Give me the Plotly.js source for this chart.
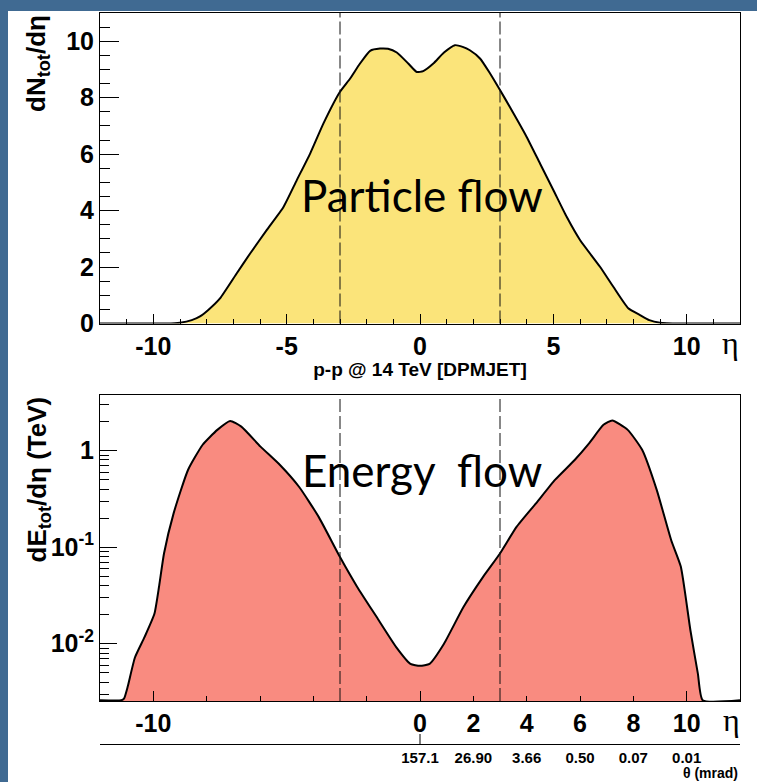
<!DOCTYPE html>
<html><head><meta charset="utf-8">
<script src="https://cdn.plot.ly/plotly-3.0.1.min.js"></script>
<style>html,body{margin:0;padding:0;background:#fff;}#chart{width:757px;height:782px;}</style>
</head><body><div id="chart"></div>
<script>
// ---- data ----
const etaN = [-12, -9.5, -9.0, -8.56, -8.25, -7.94, -7.5, -6.87, -6.37, -5.75, -5.12, -4.62, -4.12, -3.62, -3.0, -2.62, -2.25, -1.87, -1.5, -1.2, -0.87, -0.44, -0.12, 0.12, 0.5, 0.9, 1.31, 1.6, 1.87, 2.25, 2.6, 3.0, 3.37, 4.0, 4.5, 5.0, 5.5, 6.0, 6.75, 7.25, 7.81, 8.25, 8.6, 9.0, 9.75, 12];
const dNdEta = [0, 0, 0.03, 0.12, 0.25, 0.48, 0.89, 1.78, 2.48, 3.31, 4.13, 5.08, 6.02, 7.09, 8.21, 8.68, 9.21, 9.66, 9.74, 9.73, 9.6, 9.21, 8.91, 8.94, 9.21, 9.6, 9.86, 9.8, 9.68, 9.39, 8.9, 8.27, 7.67, 6.61, 5.67, 4.73, 3.78, 2.96, 2.01, 1.30, 0.54, 0.30, 0.12, 0.03, 0, 0];

const etaE = [-12, -11.2, -11.1, -10.96, -10.69, -10.33, -9.96, -9.78, -9.6, -9.24, -8.7, -8.15, -7.6, -7.12, -6.7, -5.98, -5.25, -4.53, -3.8, -3.0, -2.36, -1.63, -0.9, -0.36, 0, 0.36, 0.9, 1.63, 2.36, 3.0, 3.62, 4.35, 5.07, 5.8, 6.34, 6.88, 7.21, 7.79, 8.33, 8.88, 9.42, 9.78, 10.14, 10.42, 10.6, 12];
const dEdEta = [0.0026, 0.0026, 0.0027, 0.0036, 0.0072, 0.0117, 0.0204, 0.04, 0.086, 0.224, 0.63, 1.15, 1.64, 2.03, 1.77, 1.1, 0.71, 0.42, 0.206, 0.079, 0.039, 0.019, 0.0093, 0.0062, 0.0059, 0.0062, 0.010, 0.024, 0.049, 0.086, 0.162, 0.284, 0.50, 0.80, 1.19, 1.85, 2.05, 1.64, 1.02, 0.39, 0.118, 0.063, 0.0138, 0.0049, 0.0026, 0.0026];

const etaCuts = [-3, 3];
const topXTicks = [-10, -5, 0, 5, 10];
const topXTickText = ['-10', '-5', '0', '5', '10'];
const topYTicks = [0, 2, 4, 6, 8, 10];
const lowXTickVals = [-10, 0, 2, 4, 6, 8, 10];
const lowXTickText = ['-10', '0', '2', '4', '6', '8', '10'];
const lowXMinorTicks = [-8, -6, -4, -2];
const lowXLongTicks = [-10, 0, 10];
const lowYTickVals = [0.01, 0.1, 1];
const lowYTickText = ['10<sup>-2</sup>', '10<sup>-1</sup>', '1'];
const thetaEta = [0, 2, 4, 6, 8, 10];
const thetaLabels = ['157.1', '26.90', '3.66', '0.50', '0.07', '0.01'];

// ---- style ----
const FAM = 'Liberation Sans, Arial, sans-serif';
const TICKFONT = {family: FAM, size: 25, color: '#000', weight: 700};
const BLUE = '#406a92';
const DASH = {color: '#111', width: 1, dash: '13px,4px'};
const W = 757, H = 782, ML = 100, MR = 17, MT = 13, MB = 38;
const PW = W - ML - MR, PH = H - MT - MB;
const px2x = p => (p - ML) / PW;
const py2y = p => (H - MB - p) / PH;

// log minor ticks (2..9 per decade)
const logMinor = [];
for (let d = -3; d <= 0; d++) for (let k = 2; k <= 9; k++) logMinor.push(k * Math.pow(10, d));

const traces = [
  {x: etaN, y: dNdEta, xaxis: 'x', yaxis: 'y', mode: 'lines', fill: 'tozeroy',
   fillcolor: '#fbe47a', line: {color: '#000', width: 2, shape: 'spline', smoothing: 0.5},
   hoverinfo: 'x+y', showlegend: false},
  {x: etaE, y: dEdEta, xaxis: 'x2', yaxis: 'y2', mode: 'lines', fill: 'tozeroy',
   fillcolor: '#f98b80', line: {color: '#000', width: 2, shape: 'spline', smoothing: 0.5},
   hoverinfo: 'x+y', showlegend: false},
  {x: thetaEta, y: thetaEta.map(() => null), xaxis: 'x3', yaxis: 'y2', mode: 'markers',
   hoverinfo: 'skip', showlegend: false},
  {x: lowXLongTicks, y: lowXLongTicks.map(() => null), xaxis: 'x4', yaxis: 'y2', mode: 'markers',
   hoverinfo: 'skip', showlegend: false}
];

const shapes = [];
etaCuts.forEach(c => {
  shapes.push({type: 'line', xref: 'x', yref: 'y domain', x0: c, x1: c, y0: 0, y1: 1, line: DASH});
  shapes.push({type: 'line', xref: 'x2', yref: 'y2 domain', x0: c, x1: c, y0: 0, y1: 1, line: DASH});
});
// theta axis tick at first label
shapes.push({type: 'line', xref: 'x3', yref: 'paper', x0: thetaEta[0], x1: thetaEta[0], y0: 0, y1: 10 / PH,
  line: {color: '#000', width: 1}});
// blue slide frame
shapes.push({type: 'rect', xref: 'paper', yref: 'paper', x0: px2x(0), x1: px2x(8), y0: py2y(H), y1: py2y(0),
  fillcolor: BLUE, line: {width: 0}});
shapes.push({type: 'rect', xref: 'paper', yref: 'paper', x0: px2x(0), x1: px2x(W), y0: py2y(11), y1: py2y(0),
  fillcolor: BLUE, line: {width: 0}});

const axLine = {showline: true, linecolor: '#000', linewidth: 1, mirror: true, zeroline: false, showgrid: false};

const layout = {
  width: W, height: H,
  margin: {l: ML, r: MR, t: MT, b: MB, pad: 0},
  paper_bgcolor: '#fff', plot_bgcolor: '#fff',
  showlegend: false,
  xaxis: Object.assign({}, axLine, {
    domain: [0, 1], anchor: 'y', range: [-12, 12],
    tickmode: 'array', tickvals: topXTicks, ticktext: topXTickText,
    ticks: 'inside', ticklen: 10, tickcolor: '#000',
    minor: {dtick: 1, tick0: 0, ticks: 'inside', ticklen: 5, tickcolor: '#000'},
    tickfont: TICKFONT,
    title: {text: 'p-p @ 14 TeV [DPMJET]', standoff: 1,
      font: {family: FAM, size: 19, color: '#000', weight: 700}}
  }),
  yaxis: Object.assign({}, axLine, {
    domain: [py2y(323.5), 1], anchor: 'x', range: [0, 11],
    tickmode: 'array', tickvals: topYTicks, ticks: 'inside', ticklen: 19, tickcolor: '#000',
    minor: {dtick: 0.5, tick0: 0, ticks: 'inside', ticklen: 10, tickcolor: '#000'},
    tickfont: TICKFONT
  }),
  xaxis2: Object.assign({}, axLine, {
    domain: [0, 1], anchor: 'y2', range: [-12, 12],
    tickmode: 'array', tickvals: lowXTickVals, ticktext: lowXTickText,
    ticks: 'inside', ticklen: 5, tickcolor: '#000', tickfont: TICKFONT,
    minor: {tickmode: 'array', tickvals: lowXMinorTicks, ticks: 'inside', ticklen: 5, tickcolor: '#000'}
  }),
  xaxis4: {
    overlaying: 'x2', anchor: 'y2', range: [-12, 12], showline: false, zeroline: false, showgrid: false,
    tickmode: 'array', tickvals: lowXLongTicks, ticks: 'inside', ticklen: 10, tickcolor: '#000',
    showticklabels: false
  },
  xaxis3: {
    overlaying: 'x2', anchor: 'free', position: 0, side: 'bottom', range: [-12, 12],
    showline: true, linecolor: '#000', linewidth: 1, zeroline: false, showgrid: false,
    tickmode: 'array', tickvals: thetaEta, ticktext: thetaLabels, ticks: '',
    tickfont: {family: FAM, size: 15, color: '#000', weight: 700}
  },
  yaxis2: Object.assign({}, axLine, {
    domain: [py2y(701), py2y(395)], anchor: 'x2', type: 'log', range: [-2.593, 0.576],
    tickmode: 'array', tickvals: lowYTickVals, ticktext: lowYTickText,
    ticks: 'inside', ticklen: 17, tickcolor: '#000',
    minor: {tickmode: 'array', tickvals: logMinor, ticks: 'inside', ticklen: 9, tickcolor: '#000'},
    tickfont: TICKFONT
  }),
  shapes: shapes,
  annotations: [
    {xref: 'paper', yref: 'paper', x: px2x(422), y: py2y(195), text: 'Particle flow', showarrow: false,
     font: {family: 'Lato, sans-serif', size: 44, color: '#000'}, xanchor: 'center', yanchor: 'middle'},
    {xref: 'paper', yref: 'paper', x: px2x(422), y: py2y(470), text: 'Energy\u00a0 flow', showarrow: false,
     font: {family: 'Lato, sans-serif', size: 44, color: '#000'}, xanchor: 'center', yanchor: 'middle'},
    {xref: 'paper', yref: 'paper', x: px2x(19), y: py2y(13), text: 'dN<sub>tot</sub>/dη', textangle: -90,
     showarrow: false, xanchor: 'left', yanchor: 'top',
     font: {family: FAM, size: 26, color: '#000', weight: 700}},
    {xref: 'paper', yref: 'paper', x: px2x(19), y: py2y(395), text: 'dE<sub>tot</sub>/dη (TeV)', textangle: -90,
     showarrow: false, xanchor: 'left', yanchor: 'top',
     font: {family: FAM, size: 26, color: '#000', weight: 700}},
    {xref: 'paper', yref: 'paper', x: px2x(730), y: py2y(343), text: 'η', showarrow: false,
     xanchor: 'center', yanchor: 'middle', font: {family: 'Liberation Serif, serif', size: 32, color: '#000'}},
    {xref: 'paper', yref: 'paper', x: px2x(731), y: py2y(720), text: 'η', showarrow: false,
     xanchor: 'center', yanchor: 'middle', font: {family: 'Liberation Serif, serif', size: 32, color: '#000'}},
    {xref: 'paper', yref: 'paper', x: px2x(739), y: py2y(782), text: 'θ (mrad)', showarrow: false,
     xanchor: 'right', yanchor: 'bottom', borderpad: 0,
     font: {family: FAM, size: 14, color: '#000', weight: 700}}
  ]
};

Plotly.newPlot('chart', traces, layout, {displayModeBar: false});
</script>
</body></html>
